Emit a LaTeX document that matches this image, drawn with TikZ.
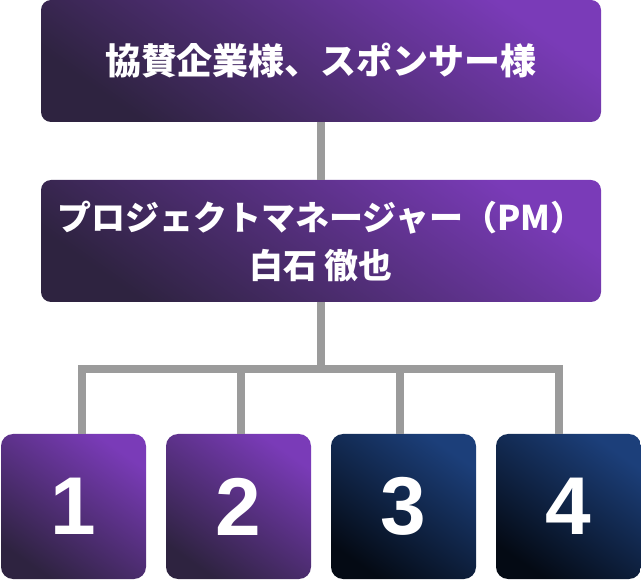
\documentclass[tikz,border=0pt]{standalone}
\usepackage{fontspec}
\newfontfamily\jpfont{Noto Sans CJK JP}
\newfontfamily\numfont{Liberation Sans}
\usetikzlibrary{positioning}

\definecolor{pbright}{HTML}{7A3BB8}
\definecolor{pdark}{HTML}{2E2340}
\definecolor{bbright}{HTML}{1C3F7A}
\definecolor{bdark}{HTML}{040A14}
\definecolor{linegray}{HTML}{9B9B9B}

\begin{document}
\begin{tikzpicture}[x=1pt,y=-1pt,node distance=165pt,
        wide node/.style={rectangle,rounded corners=10pt,minimum width=560pt,minimum height=122pt,
          top color=pbright,bottom color=pdark,shading angle=-35,text=white,align=center,
          font=\jpfont\bfseries},
        num node/.style={rectangle,rounded corners=12pt,minimum size=145pt,
          text=white,font=\numfont\bfseries\fontsize{82}{82}\selectfont},
        purple node/.style={num node,top color=pbright,bottom color=pdark,shading angle=-35},
        blue node/.style={num node,top color=bbright,bottom color=bdark,shading angle=-35},
        tree line/.style={draw=linegray,line width=8pt}]

        \useasboundingbox (0,0) rectangle (641,580);

        % boxes
        \node[wide node,font=\jpfont\bfseries\fontsize{36}{44}\selectfont] (sponsor) at (321,61) {協賛企業様、スポンサー様};
        \node[wide node,font=\jpfont\bfseries\fontsize{34}{48}\selectfont] (pm) at (321,241) {プロジェクトマネージャー（PM）\\白石 徹也};
        \node[purple node] (n1) at (73.5,506.5) {1};
        \node[purple node] (n2) [right of=n1] {2};
        \node[blue node] (n3) [right of=n2] {3};
        \node[blue node] (n4) [right of=n3] {4};

        \coordinate (split) at (321,369);

        % lines
        \begin{scope}[on background layer/.try]
        \path[tree line]
          (sponsor) -- (pm)
          (pm) -- (split)
          ([xshift=8.5pt]n1.north) |- (split) -| ([xshift=-9.5pt]n4.north)
          ([xshift=2.5pt]n2.north) -- ([xshift=2.5pt]n2.north |- split)
          ([xshift=-3.5pt]n3.north) -- ([xshift=-3.5pt]n3.north |- split)
          ;
        \end{scope}
    \end{tikzpicture}
\end{document}
